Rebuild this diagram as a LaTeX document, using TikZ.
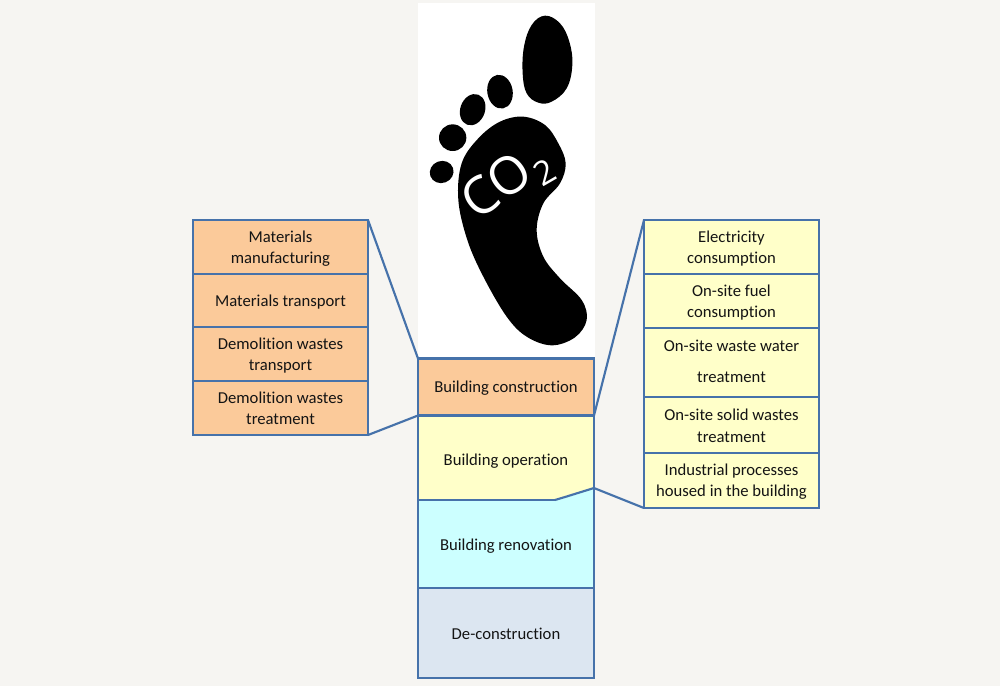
\documentclass[tikz,border=0pt]{standalone}
\usepackage{fontspec}
\setmainfont[Ligatures=NoCommon]{Carlito}
\newfontfamily\footfont{Open Sans}
\newcommand{\dn}[1]{\rule{0pt}{\dimexpr 8.6pt+2\dimexpr #1\relax\relax}}
\definecolor{bgc}{HTML}{F6F5F2}
\definecolor{linec}{HTML}{4672AA}
\definecolor{orangec}{HTML}{FBCA9A}
\definecolor{yellowc}{HTML}{FFFFC9}
\definecolor{cyanc}{HTML}{CCFFFF}
\definecolor{greyc}{HTML}{DCE6F1}
\definecolor{textc}{HTML}{141414}
\tikzset{
  box/.style={draw=linec,line width=1.6pt,inner sep=0pt,outer sep=0pt,align=center,text=textc,
    font=\fontsize{12.5}{16}\selectfont,line join=miter},
  sidebox/.style={box,minimum width=131.25pt},
  midbox/.style={box,minimum width=132pt},
  link/.style={draw=linec,line width=1.6pt},
  foottext/.style={text=white,inner sep=0pt,font=\footfont}
}
\begin{document}
\begin{tikzpicture}[x=0.75pt,y=-0.75pt]
\useasboundingbox (0,0) rectangle (1000,686);
\fill[bgc] (0,0) rectangle (1000,686);
\fill[white] (418,3) rectangle (595,358);
% footprint
\begin{scope}[shift={(410,0)},x=0.25pt,y=-0.25pt]
\fill[black] plot[smooth cycle,tension=0.65] coordinates {(405,47) (450,70) (478,125) (487,195) (470,265) (425,305) (385,308) (350,280) (338,220) (342,140) (365,75)};
\fill[black,rotate around={10:(270,275)}] (270,275) ellipse [x radius=38,y radius=51];
\fill[black,rotate around={-20:(188,329)}] (188,329) ellipse [x radius=37,y radius=48];
\fill[black] (128,413) ellipse [x radius=41,y radius=40];
\fill[black,rotate around={20:(95,516)}] (95,516) ellipse [x radius=36,y radius=33];
\fill[black] plot[smooth cycle,tension=0.6] coordinates {(340,350) (405,375) (445,430) (467,490) (450,550) (400,610) (380,690) (400,770) (450,835) (515,900) (530,960) (495,1012) (425,1036) (350,1010) (290,950) (220,830) (172,720) (145,600) (155,490) (205,415) (270,365)};
\node[foottext,rotate=36,font=\footfont\fontsize{39}{39}\selectfont] (co) at (258,556) {CO};
\node[foottext,rotate=30,font=\footfont\fontsize{25}{25}\selectfont] (two) at (405,517) {2};
\end{scope}
% central stack
\node[midbox,fill=yellowc,minimum height=84*0.75pt] (oper) at (506,458) {\dn{2.2pt}Building operation};
\fill[cyanc] (418,500) -- (555,500) -- (565,497) -- (594,488) -- (594,588) -- (418,588) -- cycle;
\draw[link,line width=1.1pt] (418,500) -- (555,500);
\draw[link] (555,500) -- (565,497) -- (594,488);
\node[midbox,fill=orangec,minimum height=57*0.75pt] (cons) at (506,387) {\dn{0.7pt}Building construction};
\node[midbox,draw=none,minimum height=88*0.75pt] (reno) at (506,545) {\dn{0.7pt}Building renovation};
\draw[link] (418,500) -- (418,588) (594,488) -- (594,588);
\node[midbox,fill=greyc,minimum height=90*0.75pt] (deco) at (506,633) {\dn{0.7pt}De-construction};
% left boxes
\node[sidebox,fill=orangec,minimum height=54*0.75pt] (l1) at (280.5,247) {\dn{1.3pt}Materials\\manufacturing};
\node[sidebox,fill=orangec,minimum height=53*0.75pt] (l2) at (280.5,300.5) {\dn{1.3pt}Materials transport};
\node[sidebox,fill=orangec,minimum height=54*0.75pt] (l3) at (280.5,354) {\dn{1pt}Demolition wastes\\transport};
\node[sidebox,fill=orangec,minimum height=54*0.75pt] (l4) at (280.5,408) {Demolition wastes\\treatment};
% right boxes
\node[sidebox,fill=yellowc,minimum height=54*0.75pt] (r1) at (731.5,247) {\dn{1.3pt}Electricity\\consumption};
\node[sidebox,fill=yellowc,minimum height=54*0.75pt] (r2) at (731.5,301) {\dn{1.3pt}On-site fuel\\consumption};
\node[sidebox,fill=yellowc,minimum height=69*0.75pt] (r3) at (731.5,362.5) {On-site waste water\\[7pt]treatment\rule[-2.3pt]{0pt}{2.3pt}};
\node[sidebox,fill=yellowc,minimum height=56*0.75pt] (r4) at (731.5,425) {\dn{0.7pt}On-site solid wastes\\treatment};
\node[sidebox,fill=yellowc,minimum height=55*0.75pt] (r5) at (731.5,480.5) {\dn{0.7pt}Industrial processes\\housed in the building};
% connectors
\coordinate (opjog) at (594,488);
\draw[link] (l1.north east) -- (cons.north west);
\draw[link] (l4.south east) -- (cons.south west);
\draw[link] (cons.south east) -- (r1.north west);
\draw[link] (opjog) -- (r5.south west);
\end{tikzpicture}
\end{document}
